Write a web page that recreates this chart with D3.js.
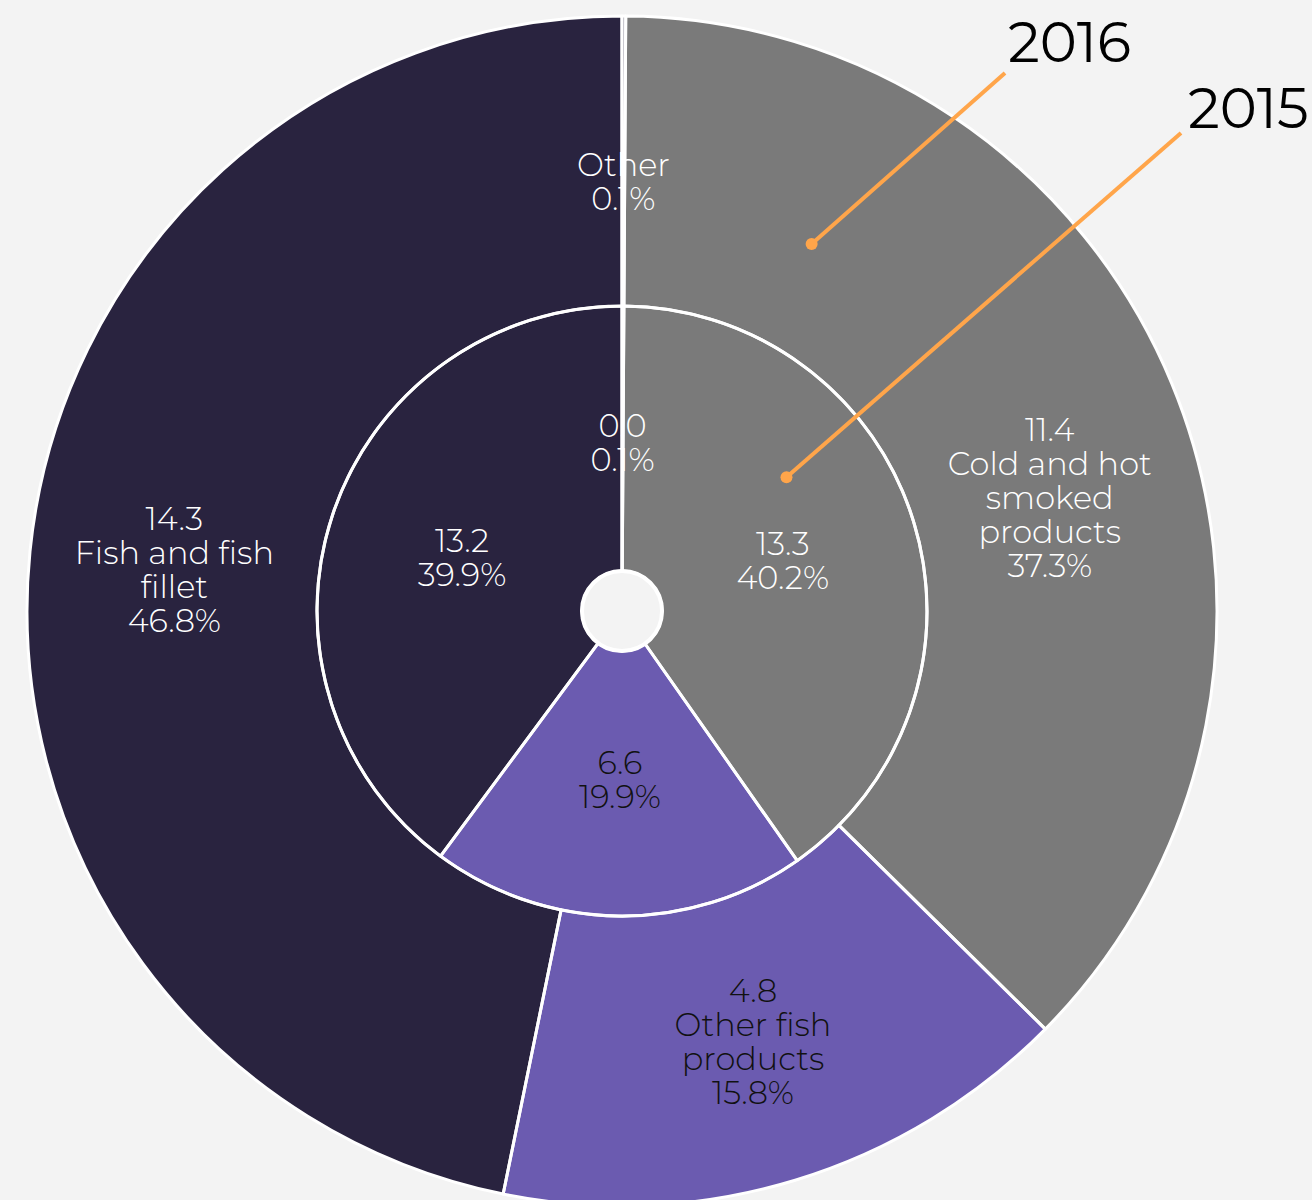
<!DOCTYPE html>
<html>
<head>
<meta charset="utf-8">
<script src="https://cdn.jsdelivr.net/npm/d3@7"></script>
<style>
  html, body { margin: 0; padding: 0; background: #f3f3f3; }
  svg { display: block; }
  text { font-family: "Montserrat", "Lato", "Noto Sans", sans-serif; }
</style>
</head>
<body>
<div id="chart"></div>
<script>
// ---- data ----
const categories = ["Other", "Cold and hot smoked products", "Other fish products", "Fish and fish fillet"];
const categoryLines = [["Other"], ["Cold and hot", "smoked", "products"], ["Other fish", "products"], ["Fish and fish", "fillet"]];
const values2015 = [0.0, 13.3, 6.6, 13.2];
const shares2015 = [0.1, 40.2, 19.9, 39.9];
const values2016 = [0.0, 11.4, 4.8, 14.3];
const shares2016 = [0.1, 37.3, 15.8, 46.8];
const colors = ["#29233f", "#7a7a7a", "#6b5bb0", "#29233f"];
const textColors = ["#ffffff", "#ffffff", "#111111", "#ffffff"];
const years = ["2016", "2015"];

// ---- layout ----
const W = 1312, H = 1200;
const cx = 622, cy = 611;
const r0 = 40, r1 = 305, r2 = 595;
const fontSize = 32, lineH = 34;
// small layout nudges of outer-ring labels relative to their centroid (by category index)
const outerNudge = [[0, 21], [12, 59], [0, 0], [0, 4]];

const svg = d3.select("#chart").append("svg").attr("width", W).attr("height", H);
svg.append("rect").attr("width", W).attr("height", H).attr("fill", "#f3f3f3");
const g = svg.append("g").attr("transform", `translate(${cx},${cy})`);

const pie = d3.pie().sort(null).value(d => d.share);

function rows(vals, shares) {
  return categories.map((c, i) => ({ i, name: c, value: vals[i], share: shares[i] }));
}
const inner = pie(rows(values2015, shares2015));
const outer = pie(rows(values2016, shares2016));

const arcIn = d3.arc().innerRadius(r0).outerRadius(r1);
const arcOut = d3.arc().innerRadius(r1).outerRadius(r2);

// fills
g.selectAll("path.out").data(outer).join("path").attr("class", "out")
  .attr("d", arcOut).attr("fill", d => colors[d.data.i]);
g.selectAll("path.in").data(inner).join("path").attr("class", "in")
  .attr("d", arcIn).attr("fill", d => colors[d.data.i]);

// labels
function label(sel, arc, data, withName, nudge) {
  data.forEach(d => {
    let [x, y] = arc.centroid(d);
    if (nudge) { x += nudge[d.data.i][0]; y += nudge[d.data.i][1]; }
    const lines = [];
    if (d.data.i === 0 && withName) {
      lines.push(...categoryLines[0]);
    } else {
      lines.push(d.data.value.toFixed(1));
      if (withName) lines.push(...categoryLines[d.data.i]);
    }
    lines.push(d.data.share.toFixed(1) + "%");
    const t = sel.append("text")
      .attr("text-anchor", "middle")
      .attr("font-size", fontSize)
      .attr("font-weight", 300)
      .attr("fill", textColors[d.data.i]);
    const y0 = y - (lines.length - 1) * lineH / 2;
    lines.forEach((l, k) => {
      t.append("tspan").attr("x", x).attr("y", y0 + k * lineH).attr("dy", "0.35em").text(l);
    });
  });
}
const lg = g.append("g");
const midOuter = (r1 + r2) / 2, midInner = (r0 + r1) / 2;
label(lg, d3.arc().innerRadius(midOuter).outerRadius(midOuter), outer, true, outerNudge);
label(lg, d3.arc().innerRadius(midInner - 4).outerRadius(midInner - 4), inner, false, null);

// outlines on top
g.selectAll("path.outS").data(outer).join("path").attr("class", "outS")
  .attr("d", arcOut).attr("fill", "none").attr("stroke", "#ffffff").attr("stroke-width", 3).attr("stroke-linejoin", "round");
g.selectAll("path.inS").data(inner).join("path").attr("class", "inS")
  .attr("d", arcIn).attr("fill", "none").attr("stroke", "#ffffff").attr("stroke-width", 3).attr("stroke-linejoin", "round");
g.append("circle").attr("r", r0).attr("fill", "#f3f3f3").attr("stroke", "#ffffff").attr("stroke-width", 4);

// annotations (year pointers into the smoked-products slices)
const orange = "#ffa54a";
const pointers = [
  { year: years[0], dot: d3.pointRadial(0.477, 413), end: [383, -538], text: [386, -549] },
  { year: years[1], dot: d3.pointRadial(0.888, 212), end: [559, -478], text: [566, -483] }
];
pointers.forEach(p => {
  g.append("line").attr("x1", p.dot[0]).attr("y1", p.dot[1]).attr("x2", p.end[0]).attr("y2", p.end[1])
    .attr("stroke", orange).attr("stroke-width", 4);
  g.append("circle").attr("cx", p.dot[0]).attr("cy", p.dot[1]).attr("r", 6).attr("fill", orange);
  g.append("text").attr("x", p.text[0]).attr("y", p.text[1]).attr("font-size", 56)
    .attr("fill", "#000000").text(p.year);
});
</script>
</body>
</html>
